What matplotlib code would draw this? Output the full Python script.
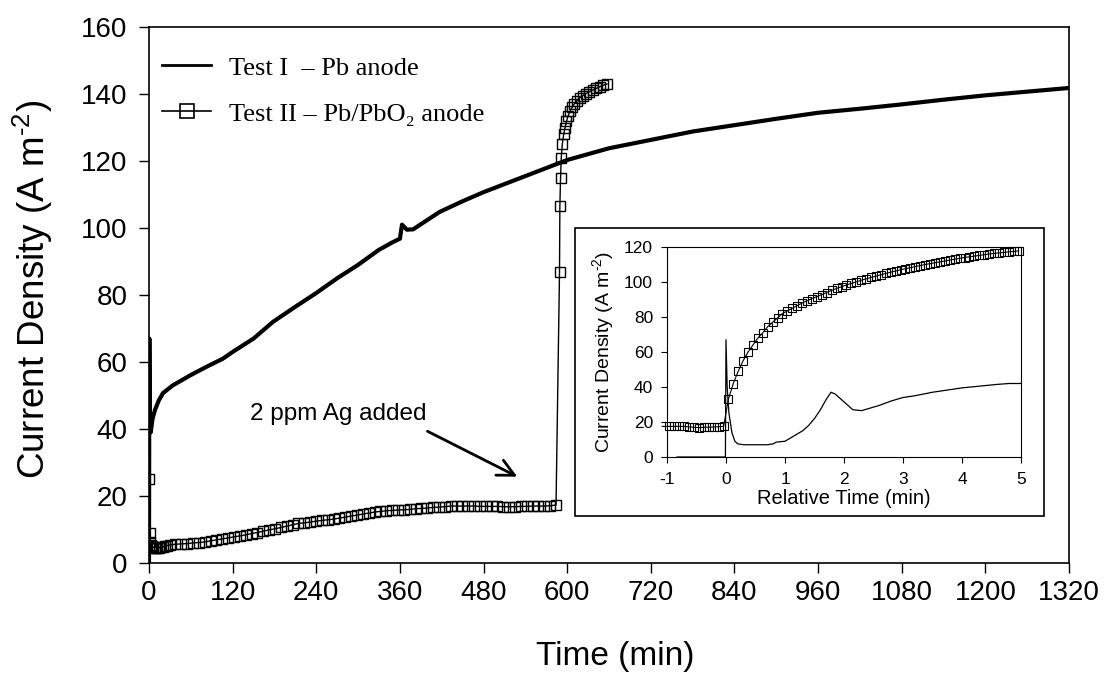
import numpy as np
import matplotlib
matplotlib.use("Agg")
import matplotlib.pyplot as plt
from matplotlib.patches import Rectangle
from matplotlib.lines import Line2D

plt.rcParams['font.family'] = ['Liberation Sans', 'DejaVu Sans']
plt.rcParams['mathtext.fontset'] = 'custom'
plt.rcParams['mathtext.rm'] = 'Liberation Sans'
plt.rcParams['mathtext.it'] = 'Liberation Sans'
plt.rcParams['axes.unicode_minus'] = False

# ---- Main chart data ----
t1_main = [0, 0.5, 1, 2.4, 5, 8.6, 14, 20, 34, 59, 80, 106, 120, 150, 178, 210, 240, 270, 300,
           330, 350, 360, 363, 370, 379, 395, 417, 450, 480, 540, 600, 660, 720, 780, 840,
           900, 960, 1020, 1080, 1140, 1200, 1260, 1320]
v1_main = [0, 67, 45, 39, 43, 45.7, 48.5, 50.7, 53, 56, 58.3, 61, 63, 67, 72, 76.5, 80.6, 85, 89,
           93.5, 95.8, 96.8, 101, 99.5, 99.6, 101.8, 104.8, 108, 110.7, 115.5, 120.3, 123.8, 126.3,
           128.8, 130.7, 132.6, 134.4, 135.6, 136.9, 138.3, 139.6, 140.7, 141.8]

t2_early = [0, 1, 2, 3, 4, 5, 6, 8, 10, 12, 14, 17, 20, 23, 26, 30]
v2_early = [25, 9, 6.2, 5.3, 5.0, 4.8, 4.7, 4.6, 4.6, 4.6, 4.6, 4.7, 4.8, 5.0, 5.2, 5.4]
v2_flat = [5.6, 5.7, 5.8, 6.0, 6.1, 6.3, 6.6, 6.9, 7.2, 7.5, 7.8, 8.1, 8.4, 8.8, 9.1, 9.5,
           9.9, 10.2, 10.6, 11.0, 11.4, 11.8, 12.0, 12.2, 12.5, 12.7, 12.9, 13.1, 13.4, 13.7,
           14.0, 14.3, 14.6, 14.9, 15.2, 15.4, 15.6, 15.7, 15.8, 15.9, 16.0, 16.2, 16.3, 16.4,
           16.6, 16.7, 16.8, 17.0, 17.0, 17.0, 17.0, 17.0, 16.9, 16.9, 16.9, 16.9, 16.8, 16.8,
           16.8, 16.9, 16.9, 17.0, 17.0, 17.0, 17.1, 17.3]
t2_flat = np.linspace(38, 584, len(v2_flat))
t2_jump = [589, 589.5, 590.5, 591.5, 593, 595, 597, 599, 601, 604, 607, 610, 614, 618, 622,
           627, 632, 637, 642, 647, 652, 657]
v2_jump = [87, 106.5, 115, 121, 125, 128, 130, 131.8, 133.3, 134.8, 136, 137, 138, 138.8,
           139.5, 140.1, 140.7, 141.2, 141.7, 142.2, 142.6, 143.0]

# ---- Inset data (relative time, min) ----
t1_inset = [-0.83, -0.01, 0.0, 0.02, 0.05, 0.1, 0.15, 0.2, 0.3, 0.5, 0.7, 0.8, 0.85, 1.0, 1.1,
            1.2, 1.3, 1.4, 1.5, 1.6, 1.7, 1.78, 1.85, 1.95, 2.05, 2.15, 2.3, 2.4, 2.6, 2.8,
            3.0, 3.2, 3.5, 3.8, 4.0, 4.3, 4.6, 4.8, 5.05]
v1_inset = [0, 0, 67, 40, 25, 14, 9, 7.5, 7, 7, 7, 7.5, 8.5, 9, 11, 13, 15, 18, 22, 27, 33,
            37, 36, 33, 30, 27, 26.5, 27.5, 29.5, 32, 34, 35, 37, 38.5, 39.5, 40.5, 41.5, 42, 42]
v2_inset_pre = [17.5, 17.5, 17.5, 17.5, 17.2, 17.0, 16.8, 17.0, 17.0, 17.2, 17.3, 17.5]
v2_inset_post = [33, 42, 49, 55, 60, 64, 68, 71, 74.5, 77, 79.5, 82, 83.5, 85, 86.5, 88, 89.3,
                 90.5, 91.7, 92.8, 94, 95.2, 96.3, 97.3, 98.3, 99.2, 100.1, 101, 101.8, 102.6,
                 103.4, 104.1, 104.9, 105.6, 106.3, 107, 107.6, 108.2, 108.8, 109.4, 110, 110.5,
                 111, 111.5, 112, 112.5, 113, 113.5, 114, 114.4, 114.8, 115.2, 115.6, 116,
                 116.3, 116.6, 116.9, 117.2, 117.5, 117.8]
t2_inset_pre = np.linspace(-0.96, -0.04, len(v2_inset_pre))
t2_inset_post = np.linspace(0.04, 4.96, len(v2_inset_post))

xticks_main = list(range(0, 1321, 120))
yticks_main = list(range(0, 161, 20))
xticks_inset = [-1, 0, 1, 2, 3, 4, 5]
yticks_inset = list(range(0, 121, 20))

ylabel_txt = r'Current Density (A m$^{\text{-2}}$)'

fig = plt.figure(figsize=(11.12, 6.8), dpi=100)
ax = fig.add_axes([149/1112, 1-563/680, 920/1112, 536/680])

t2_main = list(t2_early) + list(t2_flat) + list(t2_jump)
v2_main = list(v2_early) + list(v2_flat) + list(v2_jump)

ax.plot(t1_main, v1_main, color='black', lw=3.0, solid_joinstyle='round', zorder=3)
ax.plot(t2_main, v2_main, color='black', lw=1.0, marker='s', ms=7, mfc='none',
        mec='black', mew=1.0, zorder=4)

ax.set_xlim(0, 1320)
ax.set_ylim(0, 160)
ax.set_xticks(xticks_main)
ax.set_yticks(yticks_main)
ax.tick_params(direction='out', length=7.5, width=1, labelsize=20)
ax.tick_params(axis='x', pad=5)
ax.tick_params(axis='y', pad=8)
for s in ax.spines.values():
    s.set_linewidth(1.2)
ax.set_xlabel('Time (min)', fontsize=24)
ax.set_ylabel(ylabel_txt, fontsize=26.5)
ax.xaxis.set_label_coords(0.5065, (563-656)/536)
ax.xaxis.label.set_verticalalignment('center')
ax.yaxis.set_label_coords((33-149)/920, 0.51)
ax.yaxis.label.set_verticalalignment('center')

# legend (serif)
h1 = Line2D([], [], color='black', lw=2)
h2 = Line2D([], [], color='black', lw=1.2, marker='s', ms=10, mfc='none', mec='black', mew=1.2)
leg = ax.legend([h1, h2], ['Test I  \u2013 Pb anode', 'Test II \u2013 Pb/PbO\u2082 anode'],
                loc='upper left', bbox_to_anchor=(0.0, 1 - 16/536), frameon=False,
                prop={'family': 'Liberation Serif', 'size': 19}, handlelength=1.85,
                labelspacing=0.85, handletextpad=0.7, borderaxespad=0.0, borderpad=0.5)

ax.annotate('', xy=(532, 25.4), xytext=(396, 39.7),
            arrowprops=dict(arrowstyle='->', color='black', lw=2.0, mutation_scale=30))
ax.text(271, 44.5, '2 ppm Ag added', fontsize=17.5, ha='center', va='center')

# inset frame
fig.patches.append(Rectangle((575/1112, 1-516/680), 469/1112, 288/680,
                             transform=fig.transFigure, facecolor='white',
                             edgecolor='black', lw=1.2, zorder=10))

axi = fig.add_axes([667/1112, 1-457/680, 354/1112, 210/680], zorder=11)
axi.plot(t1_inset, v1_inset, color='black', lw=0.9)
axi.plot([-1.08] + list(t2_inset_pre) + list(t2_inset_post),
         [17.5] + list(v2_inset_pre) + list(v2_inset_post),
         color='black', lw=0.8, marker='s', ms=5.5, mfc='none', mec='black', mew=0.8,
         markevery=list(range(1, 1 + len(v2_inset_pre) + len(v2_inset_post))), clip_on=False)
axi.set_xlim(-1, 5)
axi.set_ylim(0, 120)
axi.set_xticks(xticks_inset)
axi.set_yticks(yticks_inset)
axi.tick_params(direction='out', length=4, width=0.8, labelsize=12.5)
axi.tick_params(axis='x', pad=7)
axi.tick_params(axis='y', pad=6)
for s in axi.spines.values():
    s.set_linewidth(0.8)
axi.set_xlabel('Relative Time (min)', fontsize=14.5)
axi.set_ylabel(ylabel_txt, fontsize=14)
axi.xaxis.set_label_coords((844-667)/354, (457-499)/210)
axi.xaxis.label.set_verticalalignment('center')
axi.yaxis.set_label_coords((603-667)/354, 0.5)
axi.yaxis.label.set_verticalalignment('center')

fig.savefig('out.png', dpi=100)
